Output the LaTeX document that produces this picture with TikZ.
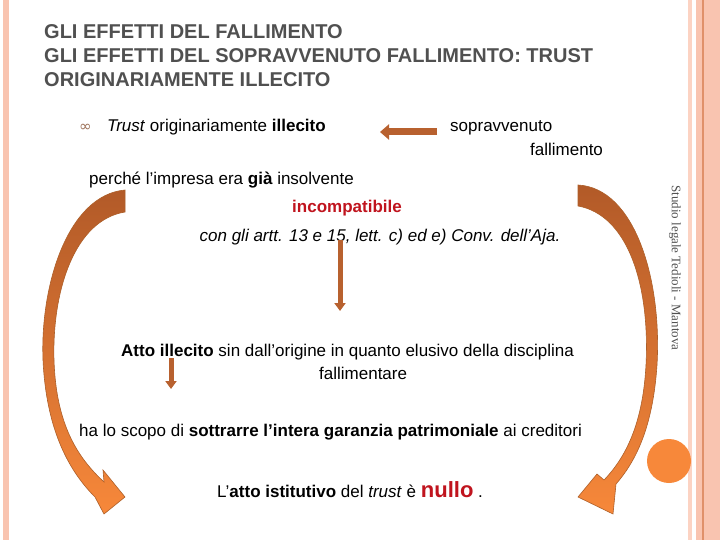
\documentclass[tikz,border=0pt]{standalone}
\usepackage{fontspec}
\setmainfont{Liberation Sans}
\newfontfamily\fontstudio{Liberation Serif}
\newfontfamily\fontsimboli{DejaVu Sans}
\usepackage{xcolor}
\usetikzlibrary{arrows.meta}

\definecolor{grigioTitolo}{HTML}{505050}
\definecolor{salmone}{HTML}{F9C4B0}
\definecolor{salmoneChiaro}{HTML}{FCD3C3}
\definecolor{lineaBordo}{HTML}{E0906A}
\definecolor{marrone}{HTML}{B8612F}
\definecolor{aranciaScuro}{HTML}{B25A28}
\definecolor{arancia}{HTML}{F7883A}
\definecolor{rossoTesto}{HTML}{C0141E}

\tikzset{
  titolo/.style={inner sep=0pt, anchor=base west, text=grigioTitolo,
    font=\fontsize{20}{24}\selectfont\bfseries},
  testo/.style={inner sep=0pt, anchor=mid west, font=\fontsize{17}{20}\selectfont},
  freccia/.style={draw=marrone, line width=5pt, -{Triangle[length=8pt,width=11pt]}},
  curva/.style={top color=aranciaScuro, bottom color=arancia, draw=arancia!70!black, line width=0.6pt},
}

\begin{document}
\begin{tikzpicture}[x=1pt, y=-1pt]
  \useasboundingbox (0,0) rectangle (720,540);
  \fill[white] (0,0) rectangle (720,540);

  % bordi
  \fill[salmone] (3,0) rectangle (9,540);
  \fill[salmoneChiaro] (688,0) rectangle (692,540);
  \fill[salmone] (696,0) rectangle (720,540);
  \fill[lineaBordo] (702,0) rectangle (703.5,540);

  % titolo
  \node[titolo] (tit1) at (44,39) {GLI EFFETTI DEL FALLIMENTO};
  \node[titolo] (tit2) at (44,63) {GLI EFFETTI DEL SOPRAVVENUTO FALLIMENTO: TRUST};
  \node[titolo] (tit3) at (44,87) {ORIGINARIAMENTE ILLECITO};

  \node[testo, text=marrone!50!gray, font=\fontsimboli\fontsize{15}{16}\selectfont] (punto) at (79,129) {∞};
  \node[testo] (trust) at (107,129) {\textit{Trust} originariamente \textbf{illecito}};
  \node[testo] (sopr) at (450,129) {sopravvenuto};
  \node[testo] (fall) at (530,153) {fallimento};
  \node[testo] (perche) at (89,182) {perché l'impresa era \textbf{già} insolvente};
  \node[testo, anchor=mid, text=rossoTesto, font=\fontsize{17}{20}\selectfont\bfseries] (incomp) at (347,210) {incompatibile};
  \node[testo, anchor=mid, font=\fontsize{17}{20}\selectfont\itshape] (conv) at (380,239) {con gli artt. 13 e 15, lett. c) ed e) Conv. dell'Aja.};
  \node[testo] (atto) at (121,354) {\textbf{Atto illecito} sin dall'origine in quanto elusivo della disciplina};
  \node[testo] (fallim) at (319,377) {fallimentare};
  \node[testo] (scopo) at (79,434) {ha lo scopo di \textbf{sottrarre l’intera garanzia patrimoniale} ai creditori};
  \node[testo] (nullo) at (217,495) {L'\textbf{atto istitutivo} del \textit{trust} è \textcolor{rossoTesto}{\fontsize{22}{22}\selectfont\textbf{nullo}} .};

  % frecce dritte
  \coordinate (a1) at (437,132);
  \coordinate (a2) at (380,132);
  \coordinate (b1) at (340,240);
  \coordinate (b2) at (340,311);
  \coordinate (c1) at (171,358);
  \coordinate (c2) at (171,389);
  \draw[freccia, -{Triangle[length=9pt,width=15pt]}, line width=7pt] (a1) -- (a2);
  \draw[freccia] (b1) -- (b2);
  \draw[freccia] (c1) -- (c2);

  % frecce curve
  \shadedraw[curva] (125,190) .. controls (68,195) and (40,285) .. (43,360)
    .. controls (46,425) and (66,468) .. (95,497) -- (104,514) -- (125,497) -- (103,470) -- (104,482)
    .. controls (78,458) and (56,425) .. (54,360) .. controls (52,290) and (75,220) .. (125,212) -- cycle;
  \shadedraw[curva] (578,185) .. controls (635,188) and (662,280) .. (657,365)
    .. controls (653,425) and (637,460) .. (616,484) -- (613,514) -- (578,497) -- (597,474) -- (604,480)
    .. controls (628,455) and (643,420) .. (646,365) .. controls (650,285) and (628,215) .. (578,206) -- cycle;

  \fill[arancia] (669,461) circle[radius=22pt];
  \node[inner sep=0pt, rotate=-90, text=grigioTitolo, font=\fontstudio\fontsize{13}{14}\selectfont] (studio) at (675,268) {Studio legale Tedioli - Mantova};
\end{tikzpicture}
\end{document}
